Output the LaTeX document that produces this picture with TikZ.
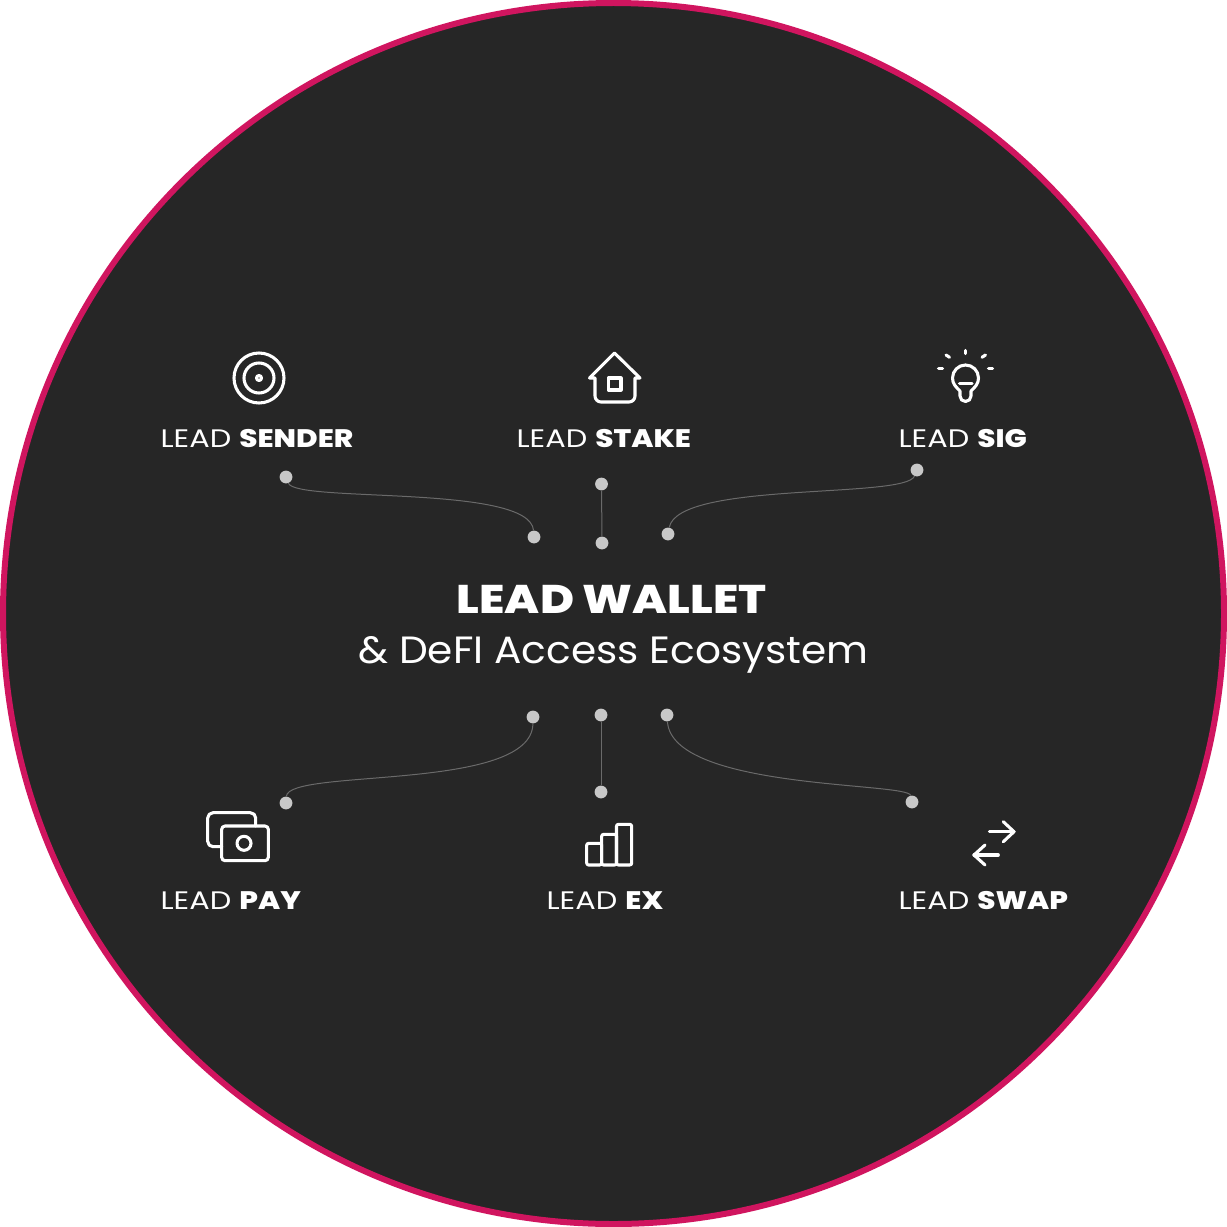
\documentclass[tikz,border=0pt]{standalone}
\usepackage{fontspec}
\setmainfont{Poppins}[FakeStretch=1.2, BoldFont={Poppins ExtraBold}, BoldFeatures={FakeStretch=1.16}]
\newfontfamily\subfont{Poppins}[FakeStretch=1.07]
\usepackage{tikz}
\usetikzlibrary{positioning}
\definecolor{discbg}{HTML}{262626}
\definecolor{ringpink}{HTML}{D0155F}
\definecolor{dotgray}{HTML}{C8C8C8}
\definecolor{linegray}{HTML}{6A6A6A}
\tikzstyle{dot} = [circle, fill=dotgray, inner sep=0pt, minimum size=9.6pt]
\tikzstyle{link} = [draw=linegray, line width=0.75pt]
\tikzstyle{icon} = [draw=white, line width=2.3pt, line join=round, line cap=round]
\tikzstyle{product} = [anchor=base west, inner sep=0pt, text=white, font=\fontsize{19}{19}\selectfont]
\begin{document}
\begin{tikzpicture}[x=0.75pt, y=-0.75pt]
\useasboundingbox (0,0) rectangle (1227,1227);
%----------------------------------------------------------------------------
% Disc
\draw [fill=discbg, draw=ringpink, line width=4.5pt] (613.5,613.5) circle [radius=610.5];

%----------------------------------------------------------------------------
% Placement of labels
\node (walletTitle) [product, font=\fontsize{30}{30}\selectfont\bfseries] at (456.5,613) {LEAD WALLET};
\node (walletSub) [product, font=\fontsize{28.5}{28.5}\selectfont\subfont] at (358,663.5) {\& DeFI Access Ecosystem};

\node (senderLabel) [product] at (160.3,447) {LEAD \textbf{SENDER}};
\node (stakeLabel) [product] at (516.3,447) {LEAD \textbf{STAKE}};
\node (sigLabel) [product] at (898.3,447) {LEAD \textbf{SIG}};
\node (payLabel) [product] at (160.3,909) {LEAD \textbf{PAY}};
\node (exLabel) [product] at (546.3,909) {LEAD \textbf{EX}};
\node (swapLabel) [product] at (898.3,909) {LEAD \textbf{SWAP}};

%----------------------------------------------------------------------------
% Placement of dots
\node (senderDot) [dot] at (286,477) {};
\node (stakeDot) [dot] at (601.5,484) {};
\node (sigDot) [dot] at (917,470) {};
\node (topLeftDot) [dot] at (534,537) {};
\node (topMidDot) [dot] at (602,543) {};
\node (topRightDot) [dot] at (668,534) {};
\node (lowLeftDot) [dot] at (533,717) {};
\node (lowMidDot) [dot] at (601,715) {};
\node (lowRightDot) [dot] at (667,715) {};
\node (payDot) [dot] at (286,803) {};
\node (exDot) [dot] at (601,792) {};
\node (swapDot) [dot] at (912,802) {};

%----------------------------------------------------------------------------
% Drawing of links
\draw [link] (senderDot) .. controls (296,503) and (530,484) .. (topLeftDot);
\draw [link] (stakeDot) -- (topMidDot);
\draw [link] (sigDot) .. controls (905,499) and (678,481) .. (topRightDot);
\draw [link] (lowLeftDot) .. controls (532,792) and (288,768) .. (payDot);
\draw [link] (lowMidDot) -- (exDot);
\draw [link] (lowRightDot) .. controls (672,790) and (908,782) .. (swapDot);

%----------------------------------------------------------------------------
% Icons
% sender
\draw [icon] (259,378) circle [radius=25];
\draw [icon] (259,378) circle [radius=15];
\draw [icon] (259,378) circle [radius=2.5];
% stake
\draw [icon] (595,378) -- (589.5,378) -- (614.5,353) -- (640,378) -- (635,378) -- (635,396) arc [start angle=0, end angle=90, radius=6] -- (601,402) arc [start angle=90, end angle=180, radius=6] -- cycle;
\draw [icon] (608.5,378) rectangle (621,390);
% sig
\draw [icon] (960,396) -- (960,391) .. controls (956,387) and (952.5,384) .. (952.5,378) arc [start angle=180, end angle=360, radius=13] .. controls (978.5,384) and (975,387) .. (971,391) -- (971,396) arc [start angle=0, end angle=180, radius=5.5];
\draw [icon] (959.5,383.5) -- (972,383.5);
\draw [icon] (965.7,350.5) -- (965.7,353.5);
\draw [icon] (946,355) -- (949.5,357.3);
\draw [icon] (985.5,355) -- (982,357.3);
\draw [icon] (938.5,368.3) -- (942.5,368.3);
\draw [icon] (988.5,368.3) -- (992.5,368.3);
% pay
\draw [icon, rounded corners=2.5pt] (221.7,826) rectangle (268.3,860.7);
\draw [icon, rounded corners=4pt] (255.7,826) -- (255.7,812.7) -- (207.7,812.7) -- (207.7,846.7) -- (221.7,846.7);
\draw [icon] (244,843.3) circle [radius=7];
% ex
\draw [icon, rounded corners=1.5pt] (586.7,843.3) rectangle (601.7,865);
\draw [icon, rounded corners=1.5pt] (601.7,834.3) rectangle (616.5,865);
\draw [icon, rounded corners=1.5pt] (616.5,824.3) rectangle (631.7,865);
% swap
\draw [icon] (989.3,831.7) -- (1014,831.7);
\draw [icon] (1003.3,821.7) -- (1014,831.7) -- (1003.3,841.7);
\draw [icon] (998.3,855) -- (974,855);
\draw [icon] (985,845) -- (974,855) -- (985,865);
\end{tikzpicture}
\end{document}
